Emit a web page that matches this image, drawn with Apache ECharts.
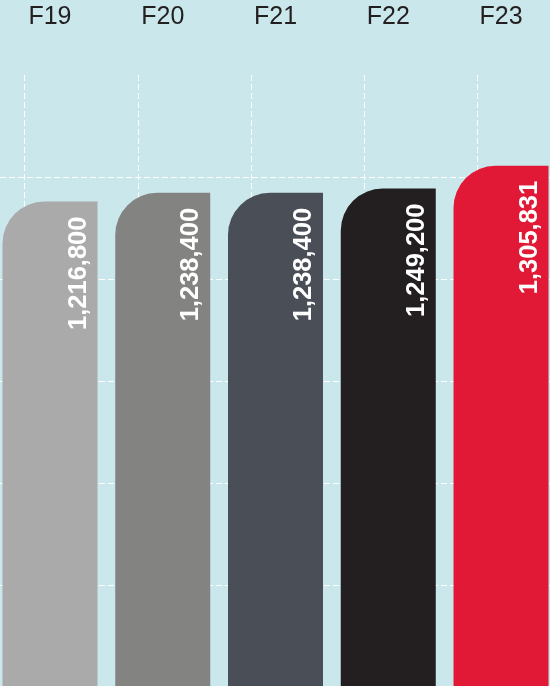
<!DOCTYPE html>
<html>
<head>
<meta charset="utf-8">
<script src="https://cdn.jsdelivr.net/npm/echarts@6/dist/echarts.min.js"></script>
<style>
html, body { margin: 0; padding: 0; background: #cae7ec; }
#main { width: 550px; height: 686px; }
</style>
</head>
<body>
<div id="main"></div>
<script>
// 数据
var years = ['F19', 'F20', 'F21', 'F22', 'F23'];
var totals = [1216800, 1238400, 1238400, 1249200, 1305831];
var barColors = ['#aaaaaa', '#838482', '#4a4f57', '#231f20', '#e11936'];

var font = 'Liberation Sans, Arial, sans-serif';
var dash = { color: '#ffffff', width: 1, type: [6, 3] };

var barData = [];
for (var i = 0; i < totals.length; i++) {
	barData.push({ value: totals[i], itemStyle: { color: barColors[i] } });
}

var myChart = echarts.init(document.getElementById('main'));

var option = {
	backgroundColor: '#cae7ec',
	animation: false,
	grid: [
		// 柱子
		{ left: -6.4, right: -7.4, top: 75, bottom: -4, outerBoundsMode: 'none' },
		// 横向虚线
		{ left: 0, right: 0, top: 177, bottom: -1, outerBoundsMode: 'none' },
		// 纵向虚线
		{ left: 24.5, right: 72.5, top: 75, bottom: 0, outerBoundsMode: 'none' }
	],
	xAxis: [
		{
			gridIndex: 0,
			type: 'category',
			position: 'top',
			data: years,
			axisLine: { show: false },
			axisTick: { show: false },
			splitLine: { show: false },
			axisLabel: {
				color: '#231f20',
				fontFamily: font,
				fontSize: 25,
				verticalAlign: 'middle',
				margin: 58
			}
		},
		{ gridIndex: 1, type: 'value', show: false },
		{
			gridIndex: 2,
			type: 'value',
			min: 0,
			max: 4,
			interval: 1,
			axisLine: { show: false },
			axisTick: { show: false },
			axisLabel: { show: false },
			splitLine: { show: true, lineStyle: dash }
		}
	],
	yAxis: [
		{
			gridIndex: 0,
			type: 'value',
			min: 0,
			max: 1532000,
			show: false,
			splitLine: { show: false }
		},
		{
			gridIndex: 1,
			type: 'value',
			min: 0,
			max: 5,
			interval: 1,
			axisLine: { show: false },
			axisTick: { show: false },
			axisLabel: { show: false },
			splitLine: { show: true, lineStyle: dash }
		},
		{ gridIndex: 2, type: 'value', show: false, splitLine: { show: false } }
	],
	series: [
		{
			type: 'bar',
			xAxisIndex: 0,
			yAxisIndex: 0,
			barWidth: 95,
			data: barData,
			itemStyle: { borderRadius: [42, 0, 0, 0] },
			label: {
				show: true,
				position: ['80%', 15],
				rotate: 90,
				align: 'right',
				verticalAlign: 'middle',
				color: '#ffffff',
				fontFamily: font,
				fontWeight: 'bold',
				fontSize: 25.5,
				formatter: function (p) {
					return echarts.format.addCommas(p.value);
				}
			}
		}
	]
};

myChart.setOption(option);
</script>
</body>
</html>
